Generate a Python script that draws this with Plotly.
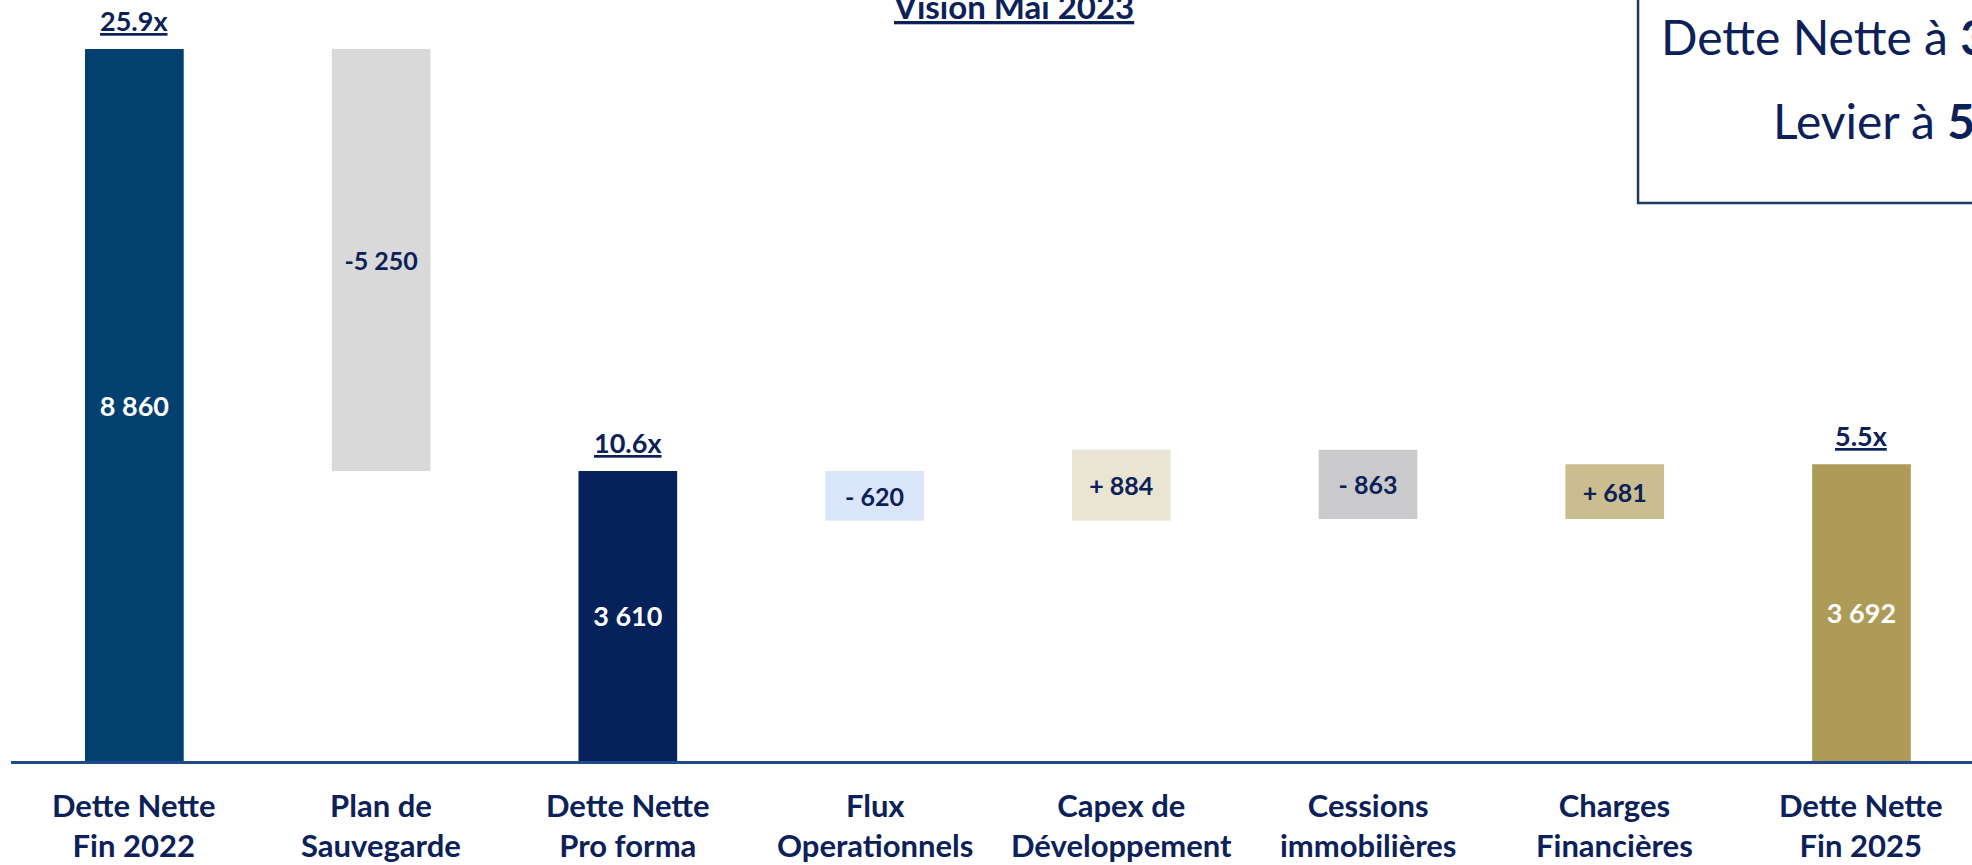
import plotly.graph_objects as go

# ---- data ----
categories = [
    "Dette Nette<br>Fin 2022",
    "Plan de<br>Sauvegarde",
    "Dette Nette<br>Pro forma",
    "Flux<br>Operationnels",
    "Capex de<br>Développement",
    "Cessions<br>immobilières",
    "Charges<br>Financières",
    "Dette Nette<br>Fin 2025",
]
values = [8860, -5250, 3610, -620, 884, -863, 681, 3692]
kinds = ["total", "delta", "total", "delta", "delta", "delta", "delta", "total"]
value_labels = ["8 860", "-5 250", "3 610", "- 620", "+ 884", "- 863", "+ 681", "3 692"]
bar_colors = ["#02416F", "#D9D9D9", "#06225A", "#D9E5F9", "#EAE4D2",
              "#CACACC", "#CABE91", "#AE9B58"]
label_colors = ["#FFFFFF", "#0B2158", "#FFFFFF", "#0B2158", "#0B2158",
                "#0B2158", "#0B2158", "#FFFFFF"]
leverage_idx = [0, 2, 7]
leverage_labels = ["25.9x", "10.6x", "5.5x"]
title_text = "Vision Mai 2023"
box_line1 = "Dette Nette à <b>3,7 Md€</b>"
box_line2 = "Levier à <b>5,5x</b>"

NAVY = "#0B2158"
FONT = "Lato, Carlito, Calibri, sans-serif"

# waterfall bases / heights
bases, heights = [], []
running = 0
for v, k in zip(values, kinds):
    if k == "total":
        bases.append(0)
        heights.append(v)
        running = v
    else:
        new = running + v
        bases.append(min(running, new))
        heights.append(abs(v))
        running = new
tops = [b + h for b, h in zip(bases, heights)]
sizes = [27 if k == "total" else 25 for k in kinds]

fig = go.Figure()
fig.add_trace(go.Bar(
    x=categories, y=heights, base=bases,
    marker=dict(color=bar_colors, line=dict(width=0)),
    width=0.4,
    text=value_labels, textposition="inside", insidetextanchor="middle",
    textangle=0, constraintext="none",
    textfont=dict(family=FONT, color=label_colors, size=sizes, weight="bold"),
    cliponaxis=False, hoverinfo="skip",
))

annotations = []
# category labels below axis
for c in categories:
    annotations.append(dict(
        x=c, xref="x", y=0, yref="paper", yanchor="middle", xanchor="center",
        yshift=-64, text=f"<b>{c}</b>", showarrow=False,
        font=dict(family=FONT, size=31, color=NAVY),
    ))
# leverage labels above total bars
for i, lab in zip(leverage_idx, leverage_labels):
    annotations.append(dict(
        x=categories[i], xref="x", y=tops[i], yref="y", yanchor="bottom",
        xanchor="center", yshift=10, text=f"<b><u>{lab}</u></b>",
        showarrow=False, font=dict(family=FONT, size=27, color=NAVY),
    ))
# title
annotations.append(dict(
    x=0.511, xref="paper", y=0.992, yref="paper", yanchor="middle",
    xanchor="center", text=f"<b><u>{title_text}</u></b>", showarrow=False,
    font=dict(family=FONT, size=33, color=NAVY),
))
# box texts
annotations.append(dict(
    x=0.8404, xref="paper", y=0.952, yref="paper", yanchor="middle",
    xanchor="left", text=box_line1, showarrow=False,
    font=dict(family=FONT, size=48, color="#0B2158"),
))
annotations.append(dict(
    x=0.8977, xref="paper", y=0.8417, yref="paper", yanchor="middle",
    xanchor="left", text=box_line2, showarrow=False,
    font=dict(family=FONT, size=48, color="#0B2158"),
))

shapes = [dict(
    type="rect", xref="paper", yref="paper",
    x0=0.8297, x1=1.1, y0=0.7332, y1=1.1,
    line=dict(color="#1F3864", width=2.5), fillcolor="rgba(0,0,0,0)",
    layer="above",
)]

fig.update_layout(
    width=1972, height=865,
    margin=dict(l=11, r=0, t=0, b=104),
    paper_bgcolor="white", plot_bgcolor="white",
    showlegend=False,
    bargap=0.6,
    xaxis=dict(range=[-0.5, 7.448], showticklabels=False, showgrid=False,
               zeroline=False, showline=True, linecolor="#1F4A8A",
               linewidth=2.5, ticks=""),
    yaxis=dict(range=[0, 9470], visible=False, showgrid=False, zeroline=False),
    annotations=annotations,
    shapes=shapes,
)

fig.write_html(
    "out.html",
    config={"displayModeBar": False},
    post_script="document.body.style.margin='0';document.body.style.overflow='hidden';",
)
